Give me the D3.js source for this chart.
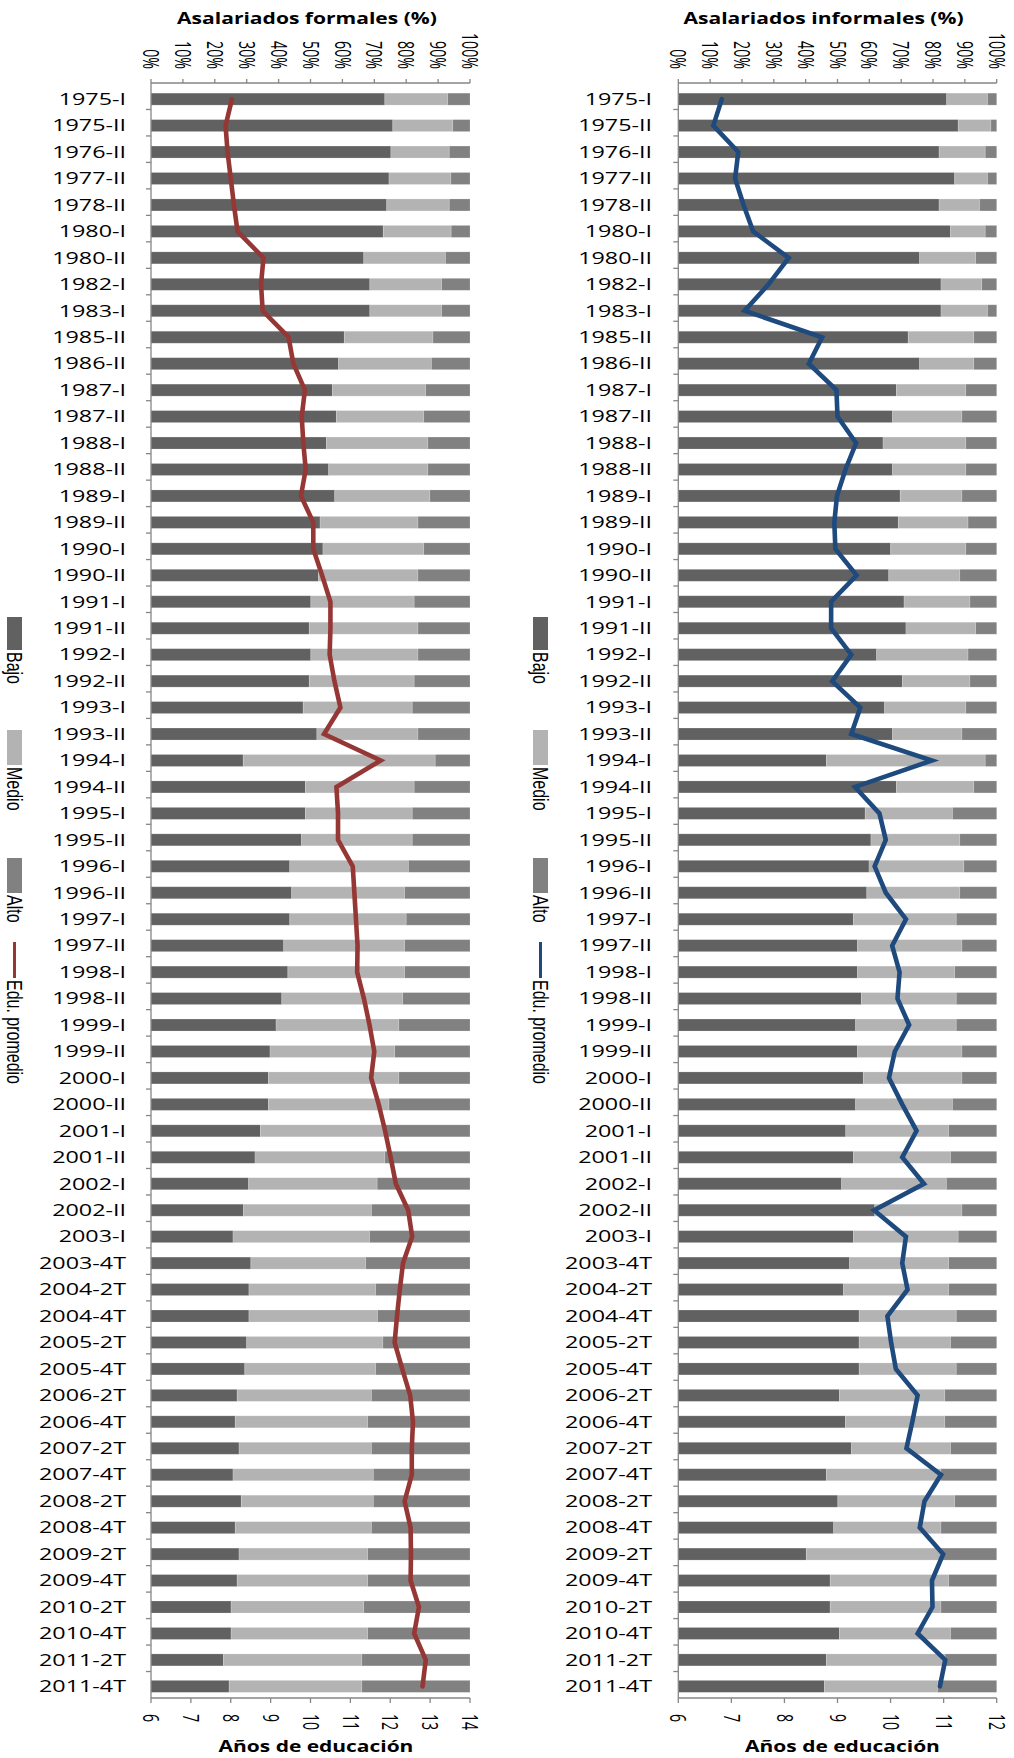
<!DOCTYPE html>
<html><head><meta charset="utf-8">
<script src="https://cdn.jsdelivr.net/npm/d3@7"></script>
<style>body{margin:0;background:#fff}svg{display:block}</style>
</head><body>
<svg id="c" width="1014" height="1758"></svg>
<script>
const categories = ["1975-I","1975-II","1976-II","1977-II","1978-II","1980-I","1980-II","1982-I","1983-I","1985-II","1986-II","1987-I","1987-II","1988-I","1988-II","1989-I","1989-II","1990-I","1990-II","1991-I","1991-II","1992-I","1992-II","1993-I","1993-II","1994-I","1994-II","1995-I","1995-II","1996-I","1996-II","1997-I","1997-II","1998-I","1998-II","1999-I","1999-II","2000-I","2000-II","2001-I","2001-II","2002-I","2002-II","2003-I","2003-4T","2004-2T","2004-4T","2005-2T","2005-4T","2006-2T","2006-4T","2007-2T","2007-4T","2008-2T","2008-4T","2009-2T","2009-4T","2010-2T","2010-4T","2011-2T","2011-4T"];

const formalBajo = [73.3,75.8,75.2,74.6,73.9,72.8,66.7,68.6,68.6,60.6,58.8,56.9,58.1,55.0,55.7,57.6,53.0,53.9,52.5,50.1,49.6,50.1,49.6,47.7,52.0,28.9,48.4,48.4,47.2,43.5,44.1,43.5,41.6,42.9,41.0,39.2,37.3,36.8,36.8,34.3,32.6,30.6,29.0,25.7,31.3,30.7,30.7,30.0,29.4,27.0,26.4,27.6,25.7,28.3,26.4,27.6,27.0,25.1,25.1,22.7,24.5];
const formalMedio = [19.7,18.8,18.3,19.4,19.6,21.3,25.6,22.5,22.5,27.8,29.1,29.2,27.4,31.8,31.1,29.8,30.7,31.6,31.2,32.4,34.1,33.6,32.9,34.2,31.7,60.2,34.1,33.5,34.7,37.2,35.4,36.5,37.9,36.6,37.9,38.5,39.1,40.9,37.8,39.2,40.7,40.3,40.1,42.8,36.0,39.7,40.3,42.7,41.0,42.1,41.5,41.5,44.0,41.4,42.7,40.3,40.9,41.6,42.8,43.4,41.6];
const formalAlto = [7.0,5.4,6.5,6.0,6.5,5.9,7.7,8.9,8.9,11.6,12.1,13.9,14.5,13.2,13.2,12.6,16.3,14.5,16.3,17.5,16.3,16.3,17.5,18.1,16.3,10.9,17.5,18.1,18.1,19.3,20.5,20.0,20.5,20.5,21.1,22.3,23.6,22.3,25.4,26.5,26.7,29.1,30.9,31.5,32.7,29.6,29.0,27.3,29.6,30.9,32.1,30.9,30.3,30.3,30.9,32.1,32.1,33.3,32.1,33.9,33.9];
const formalEdu = [8.03,7.87,7.92,8.00,8.08,8.17,8.82,8.76,8.80,9.45,9.57,9.86,9.78,9.82,9.88,9.76,10.07,10.07,10.29,10.50,10.50,10.48,10.60,10.75,10.34,11.76,10.65,10.69,10.69,11.06,11.10,11.14,11.18,11.17,11.34,11.48,11.60,11.52,11.71,11.87,12.01,12.14,12.45,12.55,12.32,12.24,12.17,12.11,12.30,12.50,12.57,12.54,12.54,12.36,12.51,12.52,12.51,12.72,12.60,12.89,12.81];

const informalBajo = [84.3,87.9,81.9,86.8,81.9,85.5,75.8,82.5,82.5,72.2,75.8,68.5,67.3,64.3,67.3,69.7,69.1,66.7,66.1,70.9,71.5,62.3,70.4,64.8,67.3,46.5,68.5,58.7,60.5,59.9,59.2,55.0,56.3,56.3,57.5,55.7,56.3,58.1,55.7,52.6,55.0,51.3,61.7,55.0,53.8,51.9,56.8,56.8,56.8,50.6,52.5,54.4,46.5,50.1,48.8,40.2,47.7,47.7,50.6,46.5,45.9];
const informalMedio = [12.8,10.3,14.5,10.3,12.7,10.9,17.6,12.8,14.6,20.6,17.0,21.8,21.8,26.0,23.0,19.4,21.9,23.6,22.3,20.7,21.9,28.7,21.2,25.5,21.8,49.9,24.3,27.4,27.9,29.8,29.2,32.3,32.8,30.5,29.8,31.6,32.8,31.0,30.4,32.3,30.5,32.9,27.4,32.9,31.1,33.0,30.5,28.7,30.5,33.1,31.2,31.1,36.0,36.7,33.7,42.3,37.2,34.8,34.9,37.3,35.5];
const informalAlto = [2.9,1.8,3.6,2.9,5.4,3.6,6.6,4.7,2.9,7.2,7.2,9.7,10.9,9.7,9.7,10.9,9.0,9.7,11.6,8.4,6.6,9.0,8.4,9.7,10.9,3.6,7.2,13.9,11.6,10.3,11.6,12.7,10.9,13.2,12.7,12.7,10.9,10.9,13.9,15.1,14.5,15.8,10.9,12.1,15.1,15.1,12.7,14.5,12.7,16.3,16.3,14.5,17.5,13.2,17.5,17.5,15.1,17.5,14.5,16.2,18.6];
const informalEdu = [6.82,6.66,7.13,7.07,7.23,7.41,8.08,7.70,7.25,8.71,8.46,8.98,9.00,9.35,9.15,8.99,8.94,8.96,9.36,8.88,8.88,9.26,8.90,9.43,9.26,10.78,9.33,9.79,9.91,9.70,9.91,10.29,10.03,10.17,10.13,10.35,10.08,9.97,10.22,10.49,10.22,10.63,9.69,10.29,10.22,10.32,9.94,10.01,10.10,10.51,10.41,10.30,10.95,10.64,10.55,10.99,10.78,10.79,10.51,11.03,10.93];

const pctTicks = [0,10,20,30,40,50,60,70,80,90,100];
const formalYearTicks = [6,7,8,9,10,11,12,13,14];
const informalYearTicks = [6,7,8,9,10,11,12];
const seriesNames = ["Bajo","Medio","Alto"];
const legendLine = "Edu. promedio";
const xTitleTop = ["Asalariados formales (%)","Asalariados informales (%)"];
const xTitleBottom = "Años de educación";

const colors = {Bajo:"#616161", Medio:"#b3b3b3", Alto:"#818181"};
const axisColor = "#868686";
const GLYPH = 1.4; // horizontal stretch of the original picture
const FONT = "'Open Sans', sans-serif";

const svg = d3.select("#c");

function measure(str, size, weight, family) {
  const t = svg.append("text").attr("font-family", family).attr("font-size", size)
    .attr("font-weight", weight).text(str);
  const w = t.node().getComputedTextLength();
  t.remove();
  return w;
}
const kCat = 87 / measure("2011-4T", 16, 400, FONT);
const kTick = 36 / measure("100%", 16, 400, FONT);
const kTitle = 260 / measure(xTitleTop[0], 16, 700, FONT);
const kBottom = 195 / measure(xTitleBottom, 16, 700, FONT);

function panel(cfg) {
  const g = svg.append("g");
  const x = d3.scaleLinear().domain([0, 100]).range([cfg.x0, cfg.x1]);
  const xe = d3.scaleLinear().domain([cfg.yearTicks[0], cfg.yearTicks[cfg.yearTicks.length-1]]).range([cfg.x0, cfg.x1]);
  const y = d3.scaleBand().domain(categories).range([86, 1699.5]).paddingInner(0.547).paddingOuter(0.27);
  const yAxis = d3.scaleBand().domain(categories).range([83, 1698]);

  const rows = categories.map((c, i) => ({cat: c, Bajo: cfg.bajo[i], Medio: cfg.medio[i], Alto: cfg.alto[i]}));
  const stack = d3.stack().keys(seriesNames)(rows);

  g.selectAll("g.s").data(stack).join("g").attr("fill", d => colors[d.key])
    .selectAll("rect").data(d => d).join("rect")
    .attr("x", d => x(d[0])).attr("width", d => Math.max(0, x(d[1]) - x(d[0])))
    .attr("y", d => y(d.data.cat)).attr("height", y.bandwidth())
    .attr("stroke", "rgba(255,255,255,0.22)").attr("stroke-width", 0.8);

  // axis lines
  g.append("line").attr("x1", cfg.x0).attr("x2", cfg.x1).attr("y1", 83).attr("y2", 83).attr("stroke", axisColor).attr("stroke-width", 1.3);
  g.append("line").attr("x1", cfg.x0).attr("x2", cfg.x1).attr("y1", 1698).attr("y2", 1698).attr("stroke", axisColor).attr("stroke-width", 1.3);
  g.append("line").attr("x1", cfg.x0).attr("x2", cfg.x0).attr("y1", 83).attr("y2", 1698).attr("stroke", axisColor).attr("stroke-width", 1.3);
  g.selectAll("line.tt").data(pctTicks).join("line")
    .attr("x1", d => x(d)).attr("x2", d => x(d)).attr("y1", 79).attr("y2", 83).attr("stroke", axisColor).attr("stroke-width", 1.3);
  g.selectAll("line.bt").data(cfg.yearTicks).join("line")
    .attr("x1", d => xe(d)).attr("x2", d => xe(d)).attr("y1", 1698).attr("y2", 1703).attr("stroke", axisColor).attr("stroke-width", 1.3);
  g.selectAll("line.lt").data(categories.slice(1)).join("line")
    .attr("x1", cfg.x0 - 5).attr("x2", cfg.x0).attr("y1", d => yAxis(d)).attr("y2", d => yAxis(d)).attr("stroke", axisColor).attr("stroke-width", 1.3);

  g.selectAll("text.tl").data(pctTicks).join("text")
    .attr("transform", d => `translate(${x(d)},69) scale(${GLYPH},${kTick}) rotate(90)`)
    .attr("text-anchor", "end").attr("dy", "0.35em")
    .attr("font-family", FONT).attr("font-size", 16).attr("fill", "#000")
    .text(d => d + "%");
  g.selectAll("text.bl").data(cfg.yearTicks).join("text")
    .attr("transform", d => `translate(${xe(d)},1714) scale(${GLYPH},${kTick}) rotate(90)`)
    .attr("text-anchor", "start").attr("dy", "0.35em")
    .attr("font-family", FONT).attr("font-size", 16).attr("fill", "#000")
    .text(d => d);
  g.selectAll("text.cl").data(categories).join("text")
    .attr("transform", d => `translate(${cfg.labelX},${y(d) + y.bandwidth()/2}) scale(${kCat},1)`)
    .attr("text-anchor", "end").attr("dy", "0.36em")
    .attr("font-family", FONT).attr("font-size", 16).attr("fill", "#000")
    .text(d => d);
  g.append("text").attr("transform", `translate(${cfg.titleX},24) scale(${kTitle},1)`)
    .attr("text-anchor", "middle").attr("font-family", FONT).attr("font-weight", 700).attr("font-size", 16)
    .text(cfg.title);
  g.append("text").attr("transform", `translate(${cfg.bottomX},1752) scale(${kBottom},1)`)
    .attr("text-anchor", "middle").attr("font-family", FONT).attr("font-weight", 700).attr("font-size", 16)
    .text(xTitleBottom);

  const line = d3.line().x(d => xe(d.v)).y(d => y(d.cat) + y.bandwidth()/2);
  g.append("path").datum(categories.map((c, i) => ({cat: c, v: cfg.edu[i]})))
    .attr("d", line).attr("fill", "none").attr("stroke", cfg.lineColor)
    .attr("stroke-width", 4.6).attr("stroke-linejoin", "miter").attr("stroke-linecap", "round");

  const lg = g.append("g");
  const lx = cfg.legendX;
  const items = [{k: "Bajo", y0: 617, y1: 650, ty: 652}, {k: "Medio", y0: 730, y1: 765, ty: 767}, {k: "Alto", y0: 858, y1: 893, ty: 895}];
  items.forEach(it => {
    lg.append("rect").attr("x", lx - 7.5).attr("width", 15).attr("y", it.y0).attr("height", it.y1 - it.y0).attr("fill", colors[it.k]);
    lg.append("text").attr("transform", `translate(${lx},${it.ty}) scale(${GLYPH},1) rotate(90)`)
      .attr("dy", "0.35em").attr("font-family", "'Liberation Sans', Arial, sans-serif").attr("font-size", 16).text(it.k);
  });
  lg.append("line").attr("x1", lx).attr("x2", lx).attr("y1", 942).attr("y2", 978).attr("stroke", cfg.lineColor).attr("stroke-width", 3);
  lg.append("text").attr("transform", `translate(${lx},980) scale(${GLYPH},1) rotate(90)`)
    .attr("dy", "0.35em").attr("font-family", "'Liberation Sans', Arial, sans-serif").attr("font-size", 16).text(legendLine);
}

panel({x0: 151, x1: 470, bajo: formalBajo, medio: formalMedio, alto: formalAlto, edu: formalEdu,
  yearTicks: formalYearTicks, labelX: 126, title: xTitleTop[0], titleX: 307, bottomX: 316,
  lineColor: "#953735", legendX: 14.5});
panel({x0: 678.3, x1: 996.7, bajo: informalBajo, medio: informalMedio, alto: informalAlto, edu: informalEdu,
  yearTicks: informalYearTicks, labelX: 652, title: xTitleTop[1], titleX: 823.5, bottomX: 842.5,
  lineColor: "#1f4a7e", legendX: 540.5});
</script>
</body></html>
